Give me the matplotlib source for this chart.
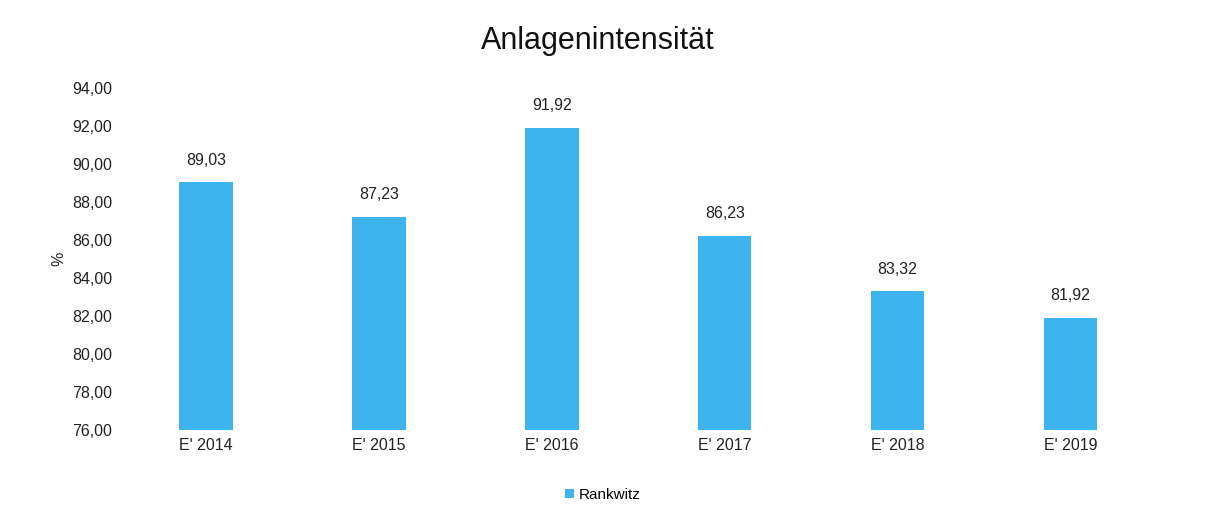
import matplotlib.pyplot as plt
import numpy as np

plt.rcParams['font.family'] = ['Liberation Sans', 'DejaVu Sans']

# Data
categories = ["E' 2014", "E' 2015", "E' 2016", "E' 2017", "E' 2018", "E' 2019"]
values = [89.03, 87.23, 91.92, 86.23, 83.32, 81.92]
series_name = "Rankwitz"
bar_color = "#3DB4EE"

fig = plt.figure(figsize=(12.25, 5.21), dpi=100)
ax = fig.add_axes([0.0975, 0.1747, 0.847, 0.6563])

x = np.arange(len(categories))
bars = ax.bar(x, values, width=0.31, color=bar_color, label=series_name)

for xi, v in zip(x, values):
    ax.text(xi, v + 0.75, f"{v:.2f}".replace(".", ","), ha="center", va="bottom",
            fontsize=11.5, color="#222222")

ax.set_ylim(76, 94)
ax.set_xlim(-0.5, len(categories) - 0.5)
ax.set_yticks(np.arange(76, 95, 2))
ax.set_yticklabels([f"{t:.2f}".replace(".", ",") for t in np.arange(76, 95, 2)])
ax.set_xticks(x)
ax.set_xticklabels(categories)
ax.tick_params(axis="both", length=0, labelsize=11.5, colors="#222222")
ax.tick_params(axis="y", pad=5)
ax.tick_params(axis="x", pad=6)
for s in ax.spines.values():
    s.set_visible(False)

ax.set_ylabel("%", fontsize=11.5, color="#222222", labelpad=4)
fig.text(0.488, 0.922, "Anlagenintensität", ha="center", va="center", fontsize=22, color="#111111")

fig.legend(handles=[bars], labels=[series_name], loc="center", bbox_to_anchor=(0.492, 0.05),
           frameon=False, fontsize=11, handlelength=0.6, handleheight=0.6, handletextpad=0.3)

fig.savefig("out.png", dpi=100)
